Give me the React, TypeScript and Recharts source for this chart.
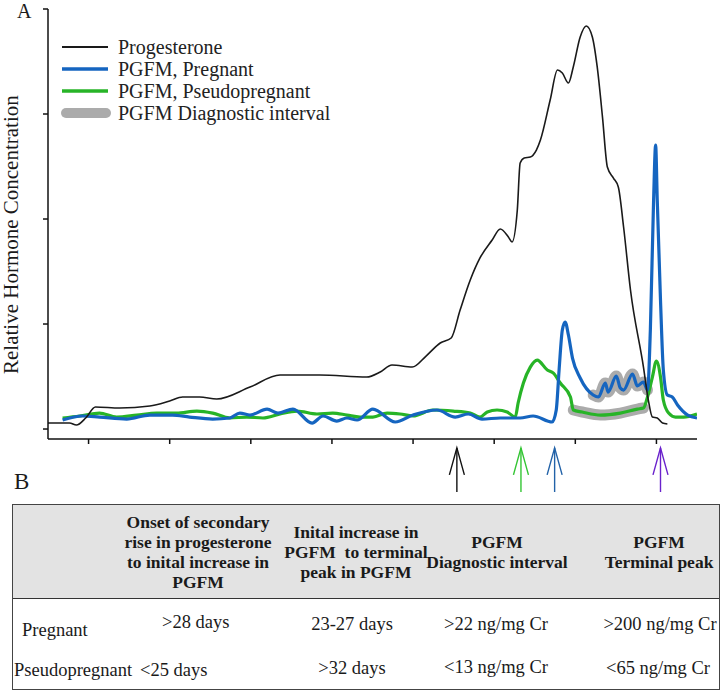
import React from 'react';
import { LineChart, Line, XAxis, YAxis, ReferenceLine, Legend } from 'recharts';

const FONT = '"Liberation Serif", "Times New Roman", serif';

// ---- data (days, relative concentration) ----
const progesteroneDays = [-10, -4.7, -3.0, -0.7, 1.7, 7.7, 15.1, 20.0, 23.2, 27.4, 31.6, 39.8, 47.2, 57.0, 68.6, 71.9, 74.8, 79.8, 83.2, 86.7, 89.4, 91.6, 94.1, 96.5, 99.5, 101.5, 103.5, 104.4, 105.7, 106.4, 107.4, 108.9, 110.4, 111.4, 113.8, 115.6, 116.8, 118.3, 119.5, 121.2, 122.7, 124.2, 125.4, 126.7, 127.9, 129.4, 130.6, 131.9, 133.6, 136.8, 138.0, 139.0, 140.2, 141.5, 142.7];
const progesteroneLevels = [5.7, 5.7, 3.8, 10.5, 21.0, 20.0, 21.9, 26.7, 30.5, 30.5, 28.6, 40.0, 51.4, 51.4, 49.5, 54.3, 61.0, 59.0, 69.5, 81.9, 86.7, 113.3, 141.9, 162.9, 180.0, 190.5, 182.9, 178.1, 208.6, 253.3, 258.1, 259.0, 265.7, 275.2, 313.3, 341.9, 339.0, 329.5, 344.8, 373.3, 383.8, 373.3, 344.8, 297.1, 249.5, 239.0, 230.5, 192.4, 132.4, 59.0, 27.6, 11.4, 10.5, 5.7, 4.8];

const pregnantDays = [-6.4, -1.5, 2.7, 9.4, 15.1, 20.7, 24.9, 30.6, 34.8, 37.3, 39.8, 44.0, 46.7, 50.4, 55.1, 57.8, 61.2, 63.7, 66.2, 70.1, 75.6, 80.0, 85.9, 90.4, 93.6, 97.0, 101.5, 106.4, 109.6, 114.3, 115.3, 116.0, 116.8, 117.5, 118.3, 119.3, 121.2, 124.4, 125.7, 127.4, 128.1, 130.1, 131.1, 131.9, 134.1, 135.3, 136.8, 137.8, 138.5, 139.3, 139.8, 140.2, 141.0, 141.7, 142.7, 143.9, 145.2, 147.7, 150];
const pregnantLevels = [8.6, 12.4, 11.4, 9.5, 13.3, 13.3, 11.4, 9.5, 10.5, 15.2, 13.3, 19.0, 15.2, 19.0, 5.7, 12.4, 7.6, 10.5, 8.6, 19.0, 6.7, 13.3, 18.1, 11.4, 14.3, 9.5, 10.5, 10.5, 12.4, 6.7, 18.1, 56.2, 94.3, 101.9, 89.5, 67.6, 48.6, 32.4, 30.5, 43.8, 35.2, 50.5, 39.0, 37.1, 52.4, 41.0, 44.8, 37.1, 94.3, 218.1, 270.5, 218.1, 122.9, 56.2, 32.4, 30.5, 22.9, 13.3, 10.5];

const pseudoDays = [-6.4, -2.2, 2.7, 6.9, 11.9, 16.8, 21.7, 26.7, 30.6, 34.8, 39.0, 43.0, 47.2, 51.4, 56.3, 60.2, 63.7, 66.9, 70.1, 73.6, 76.8, 80.0, 84.9, 89.9, 94.1, 96.5, 98.3, 100.7, 103.2, 105.2, 105.9, 107.2, 108.9, 110.6, 113.1, 114.6, 116.3, 118.8, 119.5, 121.7, 126.2, 131.1, 135.3, 136.8, 137.8, 139.0, 140.0, 141.0, 141.7, 143.0, 144.7, 146.7, 150];
const pseudoLevels = [10.5, 12.4, 15.2, 11.4, 13.3, 15.2, 15.2, 17.1, 15.2, 10.5, 11.4, 10.5, 14.3, 17.1, 14.3, 15.2, 13.3, 11.4, 11.4, 15.2, 14.3, 12.4, 18.1, 17.1, 15.2, 11.4, 16.2, 18.1, 16.2, 11.4, 24.8, 43.8, 59.0, 65.7, 56.2, 53.3, 43.8, 30.5, 18.1, 16.2, 13.3, 15.2, 19.0, 20.0, 30.5, 49.5, 64.8, 49.5, 27.6, 15.2, 11.4, 11.4, 14.3];

const diagnosticPregnantRange = [124.4, 137.8];
const diagnosticPseudoRange = [119.3, 137.3];

const xTicks = [0, 20, 40, 60, 80, 100, 120, 140];
const yTicks = [0, 100, 200, 300, 400];
const markerDays = [90.8, 106.6, 114.9, 141.0];

const seriesNames = ['Progesterone', 'PGFM, Pregnant', 'PGFM, Pseudopregnant', 'PGFM Diagnostic interval'];

const tableHeaders = [
  ['Onset of secondary', 'rise in progesterone', 'to inital increase in', 'PGFM'],
  ['Inital increase in', 'PGFM  to terminal', 'peak in PGFM'],
  ['PGFM', 'Diagnostic interval'],
  ['PGFM', 'Terminal peak'],
];
const tableRowLabels = ['Pregnant', 'Pseudopregnant'];
const pregnantCriteria = ['>28 days', '23-27 days', '>22 ng/mg Cr', '>200 ng/mg Cr'];
const pseudoCriteria = ['<25 days', '>32 days', '<13 ng/mg Cr', '<65 ng/mg Cr'];

// ---- styles ----
const COLORS = {
  prog: '#1a1a1a',
  preg: '#1565c0',
  pseudo: '#27b427',
  diag: '#ababab',
};
const markerColors = ['#111111', '#33c533', '#2262a8', '#6a22cc'];

const zip = (xs: number[], ys: number[]) => xs.map((x, i) => ({ x, y: ys[i] }));
const progesterone = zip(progesteroneDays, progesteroneLevels);
const pregnant = zip(pregnantDays, pregnantLevels);
const pseudo = zip(pseudoDays, pseudoLevels);
const diagPregnant = pregnant.filter((p) => p.x >= diagnosticPregnantRange[0] && p.x <= diagnosticPregnantRange[1]);
const diagPseudo = pseudo.filter((p) => p.x >= diagnosticPseudoRange[0] && p.x <= diagnosticPseudoRange[1]);

const legendStyles = [
  { color: COLORS.prog, w: 1.8 },
  { color: COLORS.preg, w: 3.5 },
  { color: COLORS.pseudo, w: 3.5 },
  { color: COLORS.diag, w: 10 },
];

const renderLegend = () => (
  <div style={{ fontFamily: FONT }}>
    {seriesNames.map((name, i) => (
      <div key={name} style={{ display: 'flex', alignItems: 'center', height: 22 }}>
        <svg width={58} height={22} style={{ display: 'block' }}>
          <line
            x1={i === 3 ? 6 : 2}
            x2={i === 3 ? 46 : 48}
            y1={11}
            y2={11}
            stroke={legendStyles[i].color}
            strokeWidth={legendStyles[i].w}
            strokeLinecap={i === 3 ? 'round' : 'butt'}
          />
        </svg>
        <span style={{ fontSize: 20, lineHeight: '22px', color: '#222', whiteSpace: 'nowrap' }}>{name}</span>
      </div>
    ))}
  </div>
);

const arrowShape = (color: string) => (props: any) => {
  const { x1, y1, x2, y2 } = props;
  return (
    <g>
      <line x1={x1} y1={y1} x2={x2} y2={y2} stroke={color} strokeWidth={1.4} />
      <polyline
        points={`${x1 - 7.5},${y1 + 27} ${x1},${y1} ${x1 + 7.5},${y1 + 27}`}
        fill="none"
        stroke={color}
        strokeWidth={1.4}
      />
    </g>
  );
};

// text placed by baseline
const Txt = ({ x, y, fs, children, anchor = 'left', bold = false }: any) => {
  const style: React.CSSProperties = {
    position: 'absolute',
    top: y - 0.8375 * fs,
    fontSize: fs,
    lineHeight: `${fs}px`,
    whiteSpace: 'pre',
    color: '#1a1a1a',
    fontWeight: bold ? 'bold' : 'normal',
  };
  if (anchor === 'left') style.left = x;
  else {
    style.left = x - 150;
    style.width = 300;
    style.textAlign = 'center';
  }
  return <div style={style}>{children}</div>;
};

const colCenters = [197, 355, 496, 658];

export default function App() {
  return (
    <div
      style={{
        position: 'absolute',
        left: 0,
        top: 0,
        width: 725,
        height: 692,
        background: '#fff',
        fontFamily: FONT,
        overflow: 'hidden',
      }}
    >
      <LineChart
        width={725}
        height={500}
        margin={{ top: 9, right: 28, bottom: 60, left: 47 }}
        style={{ position: 'absolute', left: 0, top: 0 }}
      >
        <XAxis
          type="number"
          dataKey="x"
          domain={[-10, 150]}
          allowDataOverflow
          ticks={xTicks}
          interval={0}
          tickFormatter={() => ''}
          tickSize={5}
          height={1}
          stroke="#111"
          strokeWidth={1.5}
          axisLine={{ stroke: '#111', strokeWidth: 1.5 }}
          tickLine={{ stroke: '#111', strokeWidth: 1.5 }}
        />
        <YAxis
          type="number"
          dataKey="y"
          domain={[-9.5, 400]}
          allowDataOverflow
          ticks={yTicks}
          interval={0}
          tickFormatter={() => ''}
          tickSize={5}
          width={1}
          stroke="#111"
          strokeWidth={1.5}
          axisLine={{ stroke: '#111', strokeWidth: 1.5 }}
          tickLine={{ stroke: '#111', strokeWidth: 1.5 }}
        />
        <Legend
          layout="vertical"
          align="center"
          verticalAlign="middle"
          wrapperStyle={{ left: 60, top: 36, width: 320, height: 88 }}
          content={renderLegend}
        />
        <Line data={diagPseudo} dataKey="y" type="monotone" stroke={COLORS.diag} strokeWidth={11} strokeLinecap="round" strokeLinejoin="round" dot={false} activeDot={false} isAnimationActive={false} legendType="none" />
        <Line data={diagPregnant} dataKey="y" type="monotone" stroke={COLORS.diag} strokeWidth={11} strokeLinecap="round" strokeLinejoin="round" dot={false} activeDot={false} isAnimationActive={false} legendType="none" />
        <Line data={pseudo} dataKey="y" type="monotone" stroke={COLORS.pseudo} strokeWidth={3.2} dot={false} activeDot={false} isAnimationActive={false} />
        <Line data={pregnant} dataKey="y" type="monotone" stroke={COLORS.preg} strokeWidth={3.2} dot={false} activeDot={false} isAnimationActive={false} />
        <Line data={progesterone} dataKey="y" type="monotone" stroke={COLORS.prog} strokeWidth={1.6} dot={false} activeDot={false} isAnimationActive={false} />
        {markerDays.map((d, i) => (
          <ReferenceLine
            key={d}
            segment={[{ x: d, y: -18 }, { x: d, y: -60 }]}
            ifOverflow="visible"
            stroke={markerColors[i]}
            shape={arrowShape(markerColors[i])}
          />
        ))}
      </LineChart>

      {/* panel labels */}
      <Txt x={17} y={18} fs={20}>A</Txt>
      <Txt x={14} y={489} fs={23}>B</Txt>

      {/* y-axis title */}
      <div
        style={{
          position: 'absolute',
          left: 1,
          top: 85,
          width: 21,
          height: 300,
          fontSize: 21,
          lineHeight: '21px',
          textAlign: 'center',
          color: '#1a1a1a',
          writingMode: 'vertical-rl',
          transform: 'rotate(180deg)',
          whiteSpace: 'nowrap',
        }}
      >
        Relative Hormone Concentration
      </div>

      {/* table */}
      <div
        style={{
          position: 'absolute',
          left: 12,
          top: 504,
          width: 708,
          height: 186,
          border: '1.2px solid #444',
          boxSizing: 'border-box',
        }}
      >
        <div
          style={{
            position: 'absolute',
            left: 0,
            top: 0,
            right: 0,
            height: 93,
            background: '#e3e3e3',
            borderBottom: '1.5px solid #333',
          }}
        >
          {tableHeaders.map((lines, i) => (
            <div
              key={i}
              style={{
                position: 'absolute',
                left: colCenters[i] - 12 - 90,
                width: 180,
                top: 0,
                height: 93,
                display: 'flex',
                alignItems: 'center',
                justifyContent: 'center',
                textAlign: 'center',
                fontWeight: 'bold',
                fontSize: 17.5,
                lineHeight: '20px',
                color: '#1a1a1a',
                whiteSpace: 'pre',
              }}
            >
              <div>
                {lines.map((l, j) => (
                  <div key={j}>{l}</div>
                ))}
              </div>
            </div>
          ))}
        </div>
      </div>
      <Txt x={22} y={636} fs={18.5}>{tableRowLabels[0]}</Txt>
      <Txt x={14} y={676} fs={18.5}>{tableRowLabels[1]}</Txt>
      <Txt x={162} y={628} fs={18.5}>{pregnantCriteria[0]}</Txt>
      <Txt x={colCenters[1] - 3} y={630} fs={18.5} anchor="center">{pregnantCriteria[1]}</Txt>
      <Txt x={colCenters[2]} y={630} fs={18.5} anchor="center">{pregnantCriteria[2]}</Txt>
      <Txt x={660} y={630} fs={18.5} anchor="center">{pregnantCriteria[3]}</Txt>
      <Txt x={140} y={676} fs={18.5}>{pseudoCriteria[0]}</Txt>
      <Txt x={352} y={674} fs={18.5} anchor="center">{pseudoCriteria[1]}</Txt>
      <Txt x={colCenters[2]} y={673} fs={18.5} anchor="center">{pseudoCriteria[2]}</Txt>
      <Txt x={658} y={674} fs={18.5} anchor="center">{pseudoCriteria[3]}</Txt>
    </div>
  );
}
